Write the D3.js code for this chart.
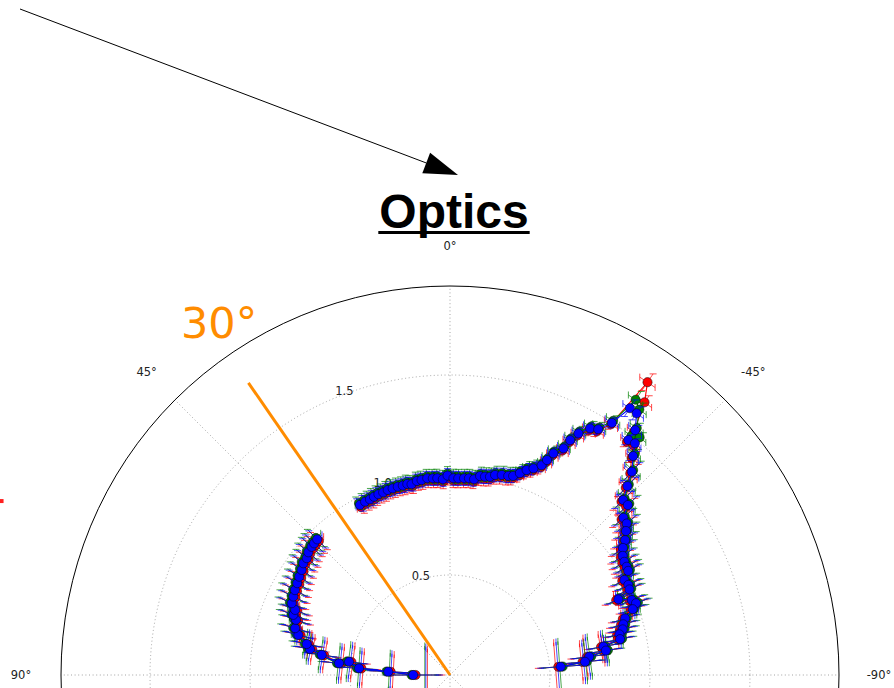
<!DOCTYPE html>
<html>
<head>
<meta charset="utf-8">
<script src="https://cdn.jsdelivr.net/npm/d3@7"></script>
<style>
  body { margin: 0; background: #fff; }
  svg { display: block; }
</style>
</head>
<body>
<svg id="chart" width="894" height="688"></svg>
<script>
// ---- data (theta in degrees, counterclockwise from top; r in axis units) ----
// null marks the break in the measurement
const theta = [
  90.0, 86.9, 85.8, 82.5, 84.0, 81.1, 79.5, 77.8, 75.2, 73.2,
  70.3, 69.0, 67.2, 65.6, 63.4, 61.3, 59.0, 56.9, 54.7, 52.7,
  50.8, 49.1, 47.2, 45.9, 44.4,
  null,
  27.9, 26.1, 24.5, 23.1, 21.6, 20.1, 18.6, 17.1, 15.5, 14.0,
  12.6, 11.4, 9.7, 8.3, 6.6, 5.0, 3.7, 2.1, 0.7, -1.0,
  -2.4, -4.1, -5.5, -7.0, -8.6, -10.0, -11.4, -12.7, -14.5, -16.3,
  -17.6, -19.1, -20.5, -22.0, -23.6,
  -24.3, -25.0, -26.6, -27.1, -28.0, -29.6, -31.1, -32.7, -34.0, -35.5, -37.1, -37.2, -38.6, -39.9,
  -41.8, -43.2, -44.7, -46.3, -47.8, -49.4, -50.7, -52.4, -53.7, -55.4, -57.0, -58.5, -59.7,
  -61.4, -63.2, -64.5, -65.8, -67.6, -68.9, -70.2, -72.1, -73.7, -75.2, -76.5, -78.1,
  -79.5, -81.1, -82.5, -84.4, -85.7
];

const rBlue = [
  0.184, 0.309, 0.456, 0.509, 0.558, 0.649, 0.712, 0.733, 0.784, 0.809,
  0.818, 0.839, 0.840, 0.869, 0.876, 0.884, 0.891, 0.900, 0.909, 0.922,
  0.924, 0.937, 0.943, 0.946, 0.949,
  null,
  0.962, 0.965, 0.965, 0.969, 0.972, 0.972, 0.976, 0.976, 0.977, 0.976,
  0.979, 0.973, 0.984, 0.985, 0.990, 0.987, 0.986, 0.979, 0.997, 0.984,
  0.984, 0.986, 0.988, 0.986, 1.006, 1.007, 1.011, 1.025, 1.033, 1.037,
  1.044, 1.068, 1.094, 1.114, 1.144,
  1.179, 1.223, 1.267, 1.319, 1.368, 1.418, 1.435, 1.498, 1.609, 1.607, 1.535, 1.475, 1.482, 1.427,
  1.364, 1.296, 1.231, 1.230, 1.170, 1.164, 1.137, 1.105, 1.073, 1.049, 1.039, 1.036, 1.032,
  0.993, 0.999, 0.994, 0.923, 0.983, 0.997, 0.971, 0.920, 0.903, 0.893, 0.871, 0.869,
  0.780, 0.789, 0.702, 0.678, 0.555
];

const rGreen = [
  0.192, 0.318, 0.466, 0.519, 0.568, 0.659, 0.722, 0.743, 0.794, 0.819,
  0.828, 0.849, 0.850, 0.879, 0.886, 0.894, 0.901, 0.910, 0.919, 0.932,
  0.934, 0.947, 0.953, 0.956, 0.959,
  null,
  0.972, 0.975, 0.975, 0.979, 0.982, 0.982, 0.986, 0.986, 0.987, 0.986,
  0.989, 0.983, 0.994, 0.995, 1.000, 0.997, 0.996, 0.989, 1.007, 0.994,
  0.994, 0.996, 0.998, 0.996, 1.016, 1.017, 1.021, 1.035, 1.043, 1.047,
  1.054, 1.078, 1.104, 1.124, 1.154,
  1.189, 1.233, 1.277, 1.329, 1.378, 1.428, 1.445, 1.510, 1.660, 1.630, 1.548, 1.500, 1.520, 1.440,
  1.374, 1.306, 1.241, 1.240, 1.180, 1.174, 1.147, 1.115, 1.083, 1.059, 1.049, 1.046, 1.042,
  1.003, 1.009, 1.004, 0.933, 0.993, 1.007, 0.981, 0.930, 0.913, 0.903, 0.881, 0.879,
  0.790, 0.799, 0.712, 0.688, 0.565
];

const rRed = [
  0.172, 0.297, 0.444, 0.497, 0.546, 0.637, 0.700, 0.721, 0.772, 0.797,
  0.806, 0.827, 0.828, 0.857, 0.864, 0.872, 0.879, 0.888, 0.897, 0.910,
  0.912, 0.925, 0.931, 0.934, 0.937,
  null,
  0.950, 0.953, 0.953, 0.957, 0.960, 0.960, 0.964, 0.964, 0.965, 0.964,
  0.967, 0.961, 0.972, 0.973, 0.978, 0.975, 0.974, 0.967, 0.985, 0.972,
  0.972, 0.974, 0.976, 0.974, 0.994, 0.995, 0.999, 1.013, 1.021, 1.025,
  1.032, 1.056, 1.082, 1.102, 1.132,
  1.167, 1.211, 1.255, 1.307, 1.356, 1.406, 1.423, 1.490, 1.766, 1.675, 1.523, 1.463, 1.470, 1.415,
  1.352, 1.284, 1.219, 1.218, 1.158, 1.152, 1.125, 1.093, 1.061, 1.037, 1.027, 1.024, 1.020,
  0.981, 0.987, 0.982, 0.911, 0.971, 0.985, 0.959, 0.908, 0.891, 0.881, 0.859, 0.857,
  0.768, 0.777, 0.690, 0.666, 0.543
];

// angular error (deg) and radial error, shared by the three channels
const errT = [
  49, 17, 11, 9.5, 8.7, 6.6, 5, 4.5, 2.5, 2.5,
  2.2, 2.2, 2, 2, 2, 2, 2, 2, 2, 2,
  2, 2, 2, 2, 2,
  null,
  1.3, 1.3, 1.3, 1.3, 1.3, 1.3, 1.3, 1.3, 1.3, 1.3,
  1.3, 1.3, 1.3, 1.3, 1.3, 1.3, 1.3, 1.3, 1.3, 1.3,
  1.3, 1.3, 1.3, 1.3, 1.3, 1.3, 1.3, 1.3, 1.3, 1.3,
  1.3, 1.3, 1.3, 1.3, 1.3,
  1.5, 1.5, 1.5, 1.5, 1.5, 1.5, 1.5, 1.5, 1.5, 1.5, 1.5, 1.5, 1.5, 1.5,
  2, 2, 2, 2, 2, 2, 2, 2, 2, 2, 2, 2, 2,
  2, 2, 2, 2, 2, 2, 2, 2, 2, 2, 2, 2,
  4.8, 4.5, 8, 8, 13
];

const errR = [
  0.13, 0.09, 0.08, 0.08, 0.08, 0.07, 0.07, 0.065, 0.065, 0.065,
  0.065, 0.065, 0.065, 0.065, 0.065, 0.065, 0.06, 0.06, 0.06, 0.06,
  0.06, 0.06, 0.06, 0.06, 0.06,
  null,
  0.035, 0.035, 0.035, 0.035, 0.035, 0.035, 0.035, 0.035, 0.035, 0.035,
  0.035, 0.035, 0.035, 0.035, 0.035, 0.035, 0.035, 0.035, 0.035, 0.035,
  0.035, 0.035, 0.035, 0.035, 0.035, 0.035, 0.035, 0.035, 0.035, 0.035,
  0.035, 0.035, 0.035, 0.035, 0.035,
  0.03, 0.03, 0.03, 0.03, 0.03, 0.03, 0.03, 0.03, 0.05, 0.04, 0.03, 0.03, 0.03, 0.03,
  0.06, 0.06, 0.06, 0.06, 0.06, 0.06, 0.06, 0.06, 0.06, 0.06, 0.06, 0.06, 0.06,
  0.06, 0.06, 0.06, 0.06, 0.06, 0.06, 0.06, 0.06, 0.06, 0.06, 0.06, 0.06,
  0.07, 0.07, 0.08, 0.08, 0.1
];

// stray red point sitting outside the axes, at the left edge
const strayTheta = [68.8];
const strayR = [2.405];

// reference direction
const refTheta = 34.6;
const refR = 1.775;
const refLabel = "30°";

// axis ticks (only the upper half of the polar axes is in view)
const rTicks = [0.5, 1.0, 1.5];
const rTickLabels = ["0.5", "1.0", "1.5"];
const gridAngles = [0, 45, 90, 135, 180, -135, -90, -45];
const thetaTicks = [0, 45, 90, -90, -45];
const thetaTickLabels = ["0°", "45°", "90°", "-90°", "-45°"];
const rMax = 1.945;

// ---- layout ----
const svg = d3.select("#chart");
const cx = 450, cy = 675, R = 389;

const rScale = d3.scaleLinear().domain([0, rMax]).range([0, R]);
// counterclockwise degrees -> d3 radial angle (clockwise radians)
const aScale = d3.scaleLinear().domain([0, 360]).range([0, -2 * Math.PI]);
const pt = (t, r) => {
  const p = d3.pointRadial(aScale(t), rScale(r));
  return [cx + p[0], cy + p[1]];
};

// grid
const grid = svg.append("g")
  .attr("fill", "none")
  .attr("stroke", "#9a9a9a")
  .attr("stroke-width", 0.9)
  .attr("stroke-dasharray", "1,2.6");

grid.selectAll("circle")
  .data(rTicks)
  .enter().append("circle")
  .attr("cx", cx).attr("cy", cy)
  .attr("r", d => rScale(d));

grid.selectAll("line")
  .data(gridAngles)
  .enter().append("line")
  .attr("x1", cx).attr("y1", cy)
  .attr("x2", d => pt(d, rMax)[0])
  .attr("y2", d => pt(d, rMax)[1]);

// outer frame
svg.append("circle")
  .attr("cx", cx).attr("cy", cy)
  .attr("r", rScale(rMax))
  .attr("fill", "none")
  .attr("stroke", "#000")
  .attr("stroke-width", 1);

// theta labels
svg.append("g").selectAll("text")
  .data(thetaTicks)
  .enter().append("text")
  .attr("x", d => cx + d3.pointRadial(aScale(d), R + 40)[0])
  .attr("y", d => cy + d3.pointRadial(aScale(d), R + 40)[1])
  .attr("text-anchor", "middle")
  .attr("dominant-baseline", "central")
  .style("font-family", "'DejaVu Sans', sans-serif")
  .style("font-size", "11.5px")
  .style("fill", "#222")
  .text((d, i) => thetaTickLabels[i]);

// r labels at 22.5 deg
svg.append("g").selectAll("text")
  .data(rTicks)
  .enter().append("text")
  .attr("x", d => pt(22.5, d)[0])
  .attr("y", d => pt(22.5, d)[1] - 2.8)
  .attr("text-anchor", "start")
  .style("font-family", "'DejaVu Sans', sans-serif")
  .style("font-size", "11.5px")
  .style("fill", "#222")
  .text((d, i) => rTickLabels[i]);

// reference line
const refEnd = pt(refTheta, refR);
svg.append("line")
  .attr("x1", cx).attr("y1", cy)
  .attr("x2", refEnd[0]).attr("y2", refEnd[1])
  .attr("stroke", "#ff8c00")
  .attr("stroke-width", 3);

svg.append("text")
  .attr("x", 181).attr("y", 338)
  .style("font-family", "'DejaVu Sans', sans-serif")
  .style("font-size", "43px")
  .style("fill", "#ff8c00")
  .text(refLabel);

// ---- series with polar error bars ----
const CAP = 3.5;

function drawSeries(rVals, color) {
  const pts = theta.map((t, i) => ({ t: t, r: rVals[i], et: errT[i], er: errR[i] }));
  const valid = pts.filter(d => d.r != null);
  const g = svg.append("g");

  const bars = g.append("g")
    .attr("stroke", color)
    .attr("stroke-width", 1)
    .attr("stroke-opacity", 0.7)
    .attr("fill", "none");

  valid.forEach(d => {
    // angular bar: straight chord between theta-e and theta+e, with '|' caps
    const a = pt(d.t - d.et, d.r), b = pt(d.t + d.et, d.r);
    bars.append("line").attr("x1", a[0]).attr("y1", a[1]).attr("x2", b[0]).attr("y2", b[1]);
    [a, b].forEach(p => bars.append("line")
      .attr("x1", p[0]).attr("y1", p[1] - CAP).attr("x2", p[0]).attr("y2", p[1] + CAP));
    // radial bar with '_' caps
    const lo = pt(d.t, Math.max(0, d.r - d.er)), hi = pt(d.t, d.r + d.er);
    bars.append("line").attr("x1", lo[0]).attr("y1", lo[1]).attr("x2", hi[0]).attr("y2", hi[1]);
    [lo, hi].forEach(p => bars.append("line")
      .attr("x1", p[0] - CAP).attr("y1", p[1]).attr("x2", p[0] + CAP).attr("y2", p[1]));
  });

  const line = d3.line()
    .defined(d => d.r != null)
    .x(d => pt(d.t, d.r)[0])
    .y(d => pt(d.t, d.r)[1]);

  g.append("path")
    .datum(pts)
    .attr("d", line)
    .attr("fill", "none")
    .attr("stroke", color)
    .attr("stroke-width", 1.1);

  g.selectAll("circle")
    .data(valid)
    .enter().append("circle")
    .attr("cx", d => pt(d.t, d.r)[0])
    .attr("cy", d => pt(d.t, d.r)[1])
    .attr("r", 4.6)
    .attr("fill", color)
    .attr("stroke", "#000")
    .attr("stroke-width", 0.5);
}

drawSeries(rRed, "#ff0000");
drawSeries(rGreen, "#008000");
drawSeries(rBlue, "#0000ff");

// stray red mark
svg.append("g").selectAll("rect")
  .data(strayTheta)
  .enter().append("rect")
  .attr("x", (d, i) => pt(d, strayR[i])[0] - 2)
  .attr("y", (d, i) => pt(d, strayR[i])[1] - 2)
  .attr("width", 4).attr("height", 4)
  .attr("fill", "#ff2020");

// ---- title ----
const title = svg.append("text")
  .attr("x", 454).attr("y", 228)
  .attr("text-anchor", "middle")
  .style("font-family", "'Liberation Sans', Arial, sans-serif")
  .style("font-weight", "bold")
  .style("font-size", "48px")
  .style("fill", "#000")
  .text("Optics");
const tb = title.node().getBBox();
svg.append("line")
  .attr("x1", tb.x - 1).attr("x2", tb.x + tb.width + 1)
  .attr("y1", 232.5).attr("y2", 232.5)
  .attr("stroke", "#000")
  .attr("stroke-width", 3);

// ---- annotation arrow ----
const arrowFrom = [20, 9], arrowTo = [458, 175];
const ang = Math.atan2(arrowTo[1] - arrowFrom[1], arrowTo[0] - arrowFrom[0]);
const headLen = 34, headHalf = 11;
const base = [arrowTo[0] - headLen * Math.cos(ang), arrowTo[1] - headLen * Math.sin(ang)];
svg.append("line")
  .attr("x1", arrowFrom[0]).attr("y1", arrowFrom[1])
  .attr("x2", base[0]).attr("y2", base[1])
  .attr("stroke", "#000").attr("stroke-width", 1);
svg.append("path")
  .attr("d", d3.line()([
    arrowTo,
    [base[0] - headHalf * Math.sin(ang), base[1] + headHalf * Math.cos(ang)],
    [base[0] + headHalf * Math.sin(ang), base[1] - headHalf * Math.cos(ang)]
  ]) + "Z")
  .attr("fill", "#000");
</script>
</body>
</html>
